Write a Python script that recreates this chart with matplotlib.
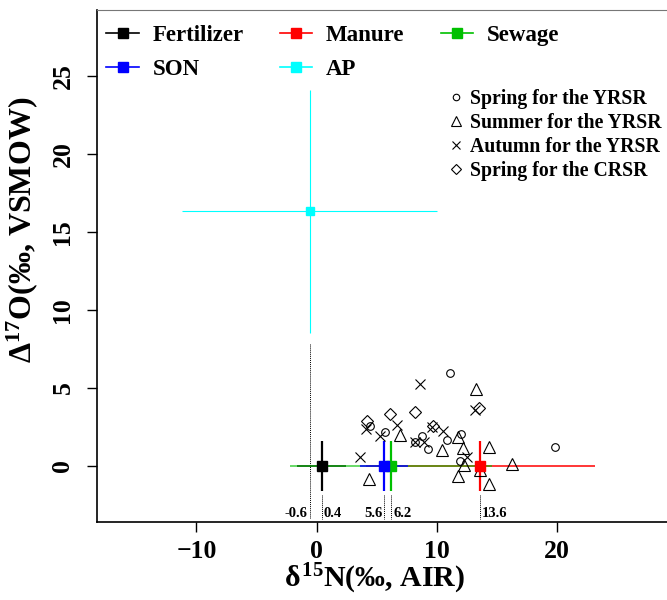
import matplotlib.pyplot as plt
import matplotlib.transforms as mtransforms

plt.rcParams['font.family'] = ['Liberation Serif', 'DejaVu Serif']
plt.rcParams['font.weight'] = 'bold'
plt.rcParams['mathtext.fontset'] = 'custom'
plt.rcParams['mathtext.rm'] = 'Liberation Serif:bold'
plt.rcParams['mathtext.it'] = 'Liberation Serif:bold'
plt.rcParams['mathtext.bf'] = 'Liberation Serif:bold'

# end-member sources (mean +- sd)
sources = ['Fertilizer', 'Manure', 'Sewage', 'SON', 'AP']
src_d15n = [0.4, 13.6, 6.2, 5.6, -0.6]
src_d15n_sd = [2.0, 9.5, 8.4, 2.0, 10.6]
src_d17o = [0.0, 0.0, 0.0, 0.0, 16.3]
src_d17o_sd = [1.6, 1.6, 1.6, 1.6, 7.8]

# samples
spring_yrsr_x = [11.08, 4.40, 5.65, 8.73, 8.17, 9.28, 10.8, 12.0, 11.91, 19.81]
spring_yrsr_y = [5.92, 2.52, 2.18, 1.93, 1.50, 1.05, 1.65, 2.03, 0.30, 1.18]
summer_yrsr_x = [13.22, 6.92, 11.75, 10.39, 12.14, 14.3, 12.24, 13.57, 16.2, 4.37, 11.72, 14.3]
summer_yrsr_y = [4.90, 1.97, 1.82, 1.03, 1.11, 1.18, 0.07, -0.28, 0.11, -0.85, -0.66, -1.19]
autumn_yrsr_x = [8.59, 13.13, 4.06, 6.71, 5.23, 9.55, 10.5, 8.17, 8.92, 3.60, 12.47]
autumn_yrsr_y = [5.22, 3.55, 2.36, 2.60, 1.90, 2.47, 2.23, 1.50, 1.54, 0.58, 0.58]
spring_crsr_x = [6.09, 8.17, 4.21, 9.64, 13.52]
spring_crsr_y = [3.29, 3.46, 2.87, 2.54, 3.73]

# dotted marks under the source means
ref_x = [-0.6, 0.4, 5.6, 6.2, 13.6]
ref_ha = ['right', 'left', 'right', 'left', 'left']

colors = {'Fertilizer': 'black', 'Manure': '#ff0000', 'Sewage': '#00c000',
          'SON': '#0000ff', 'AP': '#00ffff'}
alphas = {'Fertilizer': 1.0, 'Manure': 1.0, 'Sewage': 0.75, 'SON': 1.0, 'AP': 1.0}

fig = plt.figure(figsize=(6.67, 6.0), dpi=100)
ax = fig.add_axes([0.1459, 0.1305, 0.8541, 0.8528])

# dotted reference lines
for i, x in enumerate(ref_x):
    top = 7.8 if i == 0 else -1.9
    ax.plot([x, x], [top, -3.4], color='black', lw=0.7, ls=(0, (1, 1)))
trans = mtransforms.blended_transform_factory(ax.transData, ax.transAxes)
for x, ha in zip(ref_x, ref_ha):
    off = -0.15 if ha == 'right' else 0.15
    ax.text(x + off, 0.003, f'{x:.1f}', transform=trans, ha=ha, va='bottom',
            fontsize=10.5, fontweight='bold')

handles = {}
for name, x, xs, y, ys in zip(sources, src_d15n, src_d15n_sd, src_d17o, src_d17o_sd):
    c = colors[name]
    hw = 0.8 if name == 'AP' else 1.1
    vw = 0.8 if name == 'AP' else 1.6
    ax.errorbar(x, y, xerr=xs, fmt='none', ecolor=c, elinewidth=hw,
                capsize=0, alpha=alphas[name], zorder=2)
    ax.errorbar(x, y, yerr=ys, fmt='none', ecolor=c, elinewidth=vw,
                capsize=0, zorder=3)
for name, x, y in zip(sources, src_d15n, src_d17o):
    ms = 6 if name == 'AP' else 6.5
    ax.plot(x, y, 's', color=colors[name], ms=ms, zorder=5)
    h, = ax.plot([], [], '-s', color=colors[name], lw=1.2, ms=7)
    handles[name] = h

kw = dict(ls='none', mfc='none', mec='black', mew=0.8, zorder=4)
p1, = ax.plot(spring_yrsr_x, spring_yrsr_y, 'o', ms=5.5, label='Spring for the YRSR', **kw)
p2, = ax.plot(summer_yrsr_x, summer_yrsr_y, '^', ms=8, label='Summer for the YRSR', **kw)
p3, = ax.plot(autumn_yrsr_x, autumn_yrsr_y, 'x', ms=6.5, label='Autumn for the YRSR', **kw)
p4, = ax.plot(spring_crsr_x, spring_crsr_y, 'D', ms=6.5, label='Spring for the CRSR', **kw)

ax.set_xlim(-18.24, 29.12)
ax.set_ylim(-3.59, 29.21)
ax.set_xticks([-10, 0, 10, 20])
ax.set_yticks([0, 5, 10, 15, 20, 25])
ax.tick_params(direction='out', length=7.5, width=1, labelsize=18.5, pad=6)
ax.tick_params(axis='y', labelrotation=90, pad=9)
for lab in ax.get_yticklabels():
    lab.set_va('center')
ax.spines['right'].set_visible(False)
for s in ['left', 'bottom']:
    ax.spines[s].set_linewidth(1.2)
ax.spines['top'].set_color('#777777')

ax.set_xlabel(r'$\delta^{15}$N(‰, AIR)', fontsize=21.5, fontweight='bold')
ax.xaxis.set_label_coords(0.487, -0.078)
ax.set_ylabel(r'$\Delta^{17}$O(‰, VSMOW)', fontsize=23, fontweight='bold')
ax.yaxis.set_label_coords(-0.1, 0.57)

order = ['Fertilizer', 'SON', 'Manure', 'AP', 'Sewage']
leg1 = ax.legend([handles[n] for n in order], order, ncol=3, loc='upper left',
                 bbox_to_anchor=(0.0, 0.988), frameon=False,
                 prop={'size': 16.5, 'weight': 'bold'}, handlelength=1.4,
                 handletextpad=0.6, columnspacing=1.6, labelspacing=0.55,
                 borderaxespad=0.2, borderpad=0.2)
ax.add_artist(leg1)
ax.legend(handles=[p1, p2, p3, p4], loc='upper right', bbox_to_anchor=(1.012, 0.868),
          frameon=False, prop={'size': 14.2, 'weight': 'bold'}, handlelength=0.8,
          handletextpad=0.35, labelspacing=0.2, borderaxespad=0.2, markerscale=0.85)

fig.savefig('out.png', dpi=100)
